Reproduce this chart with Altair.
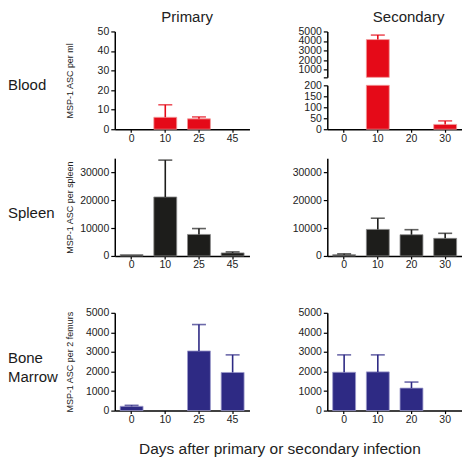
import altair as alt
import pandas as pd

FONT = "Liberation Sans"

primary_days = ["0", "10", "25", "45"]
secondary_days = ["0", "10", "20", "30"]

blood_primary_mean = [0, 6.1, 5.3, 0]
blood_primary_upper = [0, 12.5, 6.3, 0]
blood_secondary_mean = [0, 4150, 0, 22]
blood_secondary_upper = [0, 4620, 0, 38]
spleen_primary_mean = [500, 21100, 7700, 1100]
spleen_primary_upper = [500, 34300, 9800, 1450]
spleen_secondary_mean = [450, 9500, 7600, 6300]
spleen_secondary_upper = [750, 13500, 9400, 8100]
bone_primary_mean = [220, 0, 3050, 1950]
bone_primary_upper = [270, 0, 4400, 2850]
bone_secondary_mean = [1960, 1980, 1150, 0]
bone_secondary_upper = [2850, 2850, 1460, 0]

row_labels = [["Blood"], ["Spleen"], ["Bone", "Marrow"]]
y_titles = ["MSP-1 ASC per ml", "MSP-1 ASC per spleen", "MSP-1 ASC per 2 femurs"]
col_titles = ["Primary", "Secondary"]
x_title = "Days after primary or secondary infection"

RED, RED_EDGE = "#e50a18", "#f39a9a"
BLACK, BLACK_EDGE = "#1d1d1b", "#8a8a8a"
NAVY, NAVY_EDGE = "#2e2a84", "#9d9acb"

W, H = 135, 98
TXT = "#222222"


def xenc(days):
    return alt.X(
        "day:N", sort=days, title=None,
        scale=alt.Scale(domain=days, paddingInner=0.32, paddingOuter=0.16),
        axis=alt.Axis(labelAngle=0, ticks=True, tickSize=3, tickWidth=1.2, tickColor="black",
                      labelPadding=1, domainColor="black", domainWidth=1.5,
                      labelFontSize=10.5, labelFont=FONT, labelColor=TXT),
    )


def yaxis(values, title=None, **kw):
    return alt.Axis(
        values=values, format="d", title=title, tickSize=4, tickWidth=1.2, tickColor="black",
        labelPadding=2, domainWidth=1.5, domainColor="black", grid=False,
        labelFontSize=10.5, labelFont=FONT, labelColor=TXT, labelOverlap=False,
        titleFontSize=9, titleFont=FONT, titleFontWeight="normal", titleColor=TXT,
        titlePadding=4, minExtent=36, maxExtent=36, **kw)


ONE = pd.DataFrame({"k": [0]})


def row_label(lines, y):
    txt = lines if len(lines) > 1 else lines[0]
    return alt.Chart(ONE).mark_text(
        align="left", baseline="alphabetic", fontSize=15, font=FONT, color="#1a1a1a",
        lineHeight=19).encode(x=alt.value(-107), y=alt.value(y), text=alt.value(txt))


def spacer(y):
    return alt.Chart(ONE).mark_text(opacity=0, fontSize=4, baseline="bottom").encode(
        x=alt.value(60), y=alt.value(y), text=alt.value("."))


def layers_for(df, days, color, edge, scale, axis, yfield="mean", y2field=None):
    bars_df = df[df[yfield] > 0]
    err = df[df["upper"] > df["mean"]]
    benc = dict(x=xenc(days), y=alt.Y(f"{yfield}:Q", scale=scale, axis=axis))
    if y2field:
        benc["y2"] = f"{y2field}:Q"
    bars = alt.Chart(bars_df).mark_bar(color=color, stroke=edge, strokeWidth=0.8).encode(**benc)
    out = [bars]
    if len(err):
        stem = alt.Chart(err).mark_rule(color=color, strokeWidth=1.6).encode(
            x=xenc(days), y=alt.Y("mean:Q", scale=scale, axis=axis), y2="upper:Q")
        cap = alt.Chart(err).mark_tick(color=color, thickness=1.6, size=14,
                                       orient="horizontal").encode(
            x=xenc(days), y=alt.Y("upper:Q", scale=scale, axis=axis))
        out += [stem, cap]
    return out


def title_params(text, dx):
    return alt.TitleParams(text, fontSize=15, font=FONT, fontWeight="normal", color=TXT,
                           offset=1, anchor="middle", dx=dx)


def panel(days, mean, upper, color, edge, ymax, ticks, ytitle=None, label=None,
          label_y=60, title=None, title_dx=0, extra=None):
    df = pd.DataFrame({"day": days, "mean": mean, "upper": upper})
    scale = alt.Scale(domain=[0, ymax], nice=False)
    layers = layers_for(df, days, color, edge, scale, yaxis(ticks, ytitle))
    if label:
        layers.append(row_label(label, label_y))
    if extra is not None:
        layers.append(extra)
    ch = alt.layer(*layers).properties(width=W, height=H)
    if title:
        ch = ch.properties(title=title_params(title, title_dx))
    return ch


# Row 1: blood
bp = panel(primary_days, blood_primary_mean, blood_primary_upper, RED, RED_EDGE, 50,
           [0, 10, 20, 30, 40, 50], y_titles[0], row_labels[0], 59, col_titles[0], 5)

bs = pd.DataFrame({"day": secondary_days, "mean": blood_secondary_mean,
                   "upper": blood_secondary_upper})
bs["low"] = bs["mean"].clip(upper=200)
bs["base"] = 200
lo_scale = alt.Scale(domain=[0, 200], range=[H, H - 44], nice=False)
hi_scale = alt.Scale(domain=[200, 5000], range=[46, 0], nice=False)
lo_df = bs.copy()
lo_df.loc[lo_df["mean"] > 200, "upper"] = 0  # upper error drawn in the top segment
hi_df = bs[bs["mean"] > 200]

lo_layer = alt.layer(*layers_for(
    lo_df, secondary_days, RED, RED_EDGE, lo_scale,
    yaxis([0, 50, 100, 150, 200], None, orient="left"), yfield="low"))
hi_layer = alt.layer(*layers_for(
    hi_df, secondary_days, RED, RED_EDGE, hi_scale,
    yaxis([200, 1000, 2000, 3000, 4000, 5000], None, orient="left",
          labelExpr="datum.value == 200 ? '' : datum.label"),
    yfield="mean", y2field="base"))
bsec = alt.layer(lo_layer, hi_layer).resolve_scale(y="independent").resolve_axis(
    y="independent").properties(width=W, height=H, title=title_params(col_titles[1], 14))

# Row 2: spleen
sp = panel(primary_days, spleen_primary_mean, spleen_primary_upper, BLACK, BLACK_EDGE, 35000,
           [0, 10000, 20000, 30000], y_titles[1], row_labels[1], 60, extra=spacer(135.5))
ssec = panel(secondary_days, spleen_secondary_mean, spleen_secondary_upper, BLACK, BLACK_EDGE,
             35000, [0, 10000, 20000, 30000])

# Row 3: bone marrow
mp = panel(primary_days, bone_primary_mean, bone_primary_upper, NAVY, NAVY_EDGE, 5000,
           [0, 1000, 2000, 3000, 4000, 5000], y_titles[2], row_labels[2], 50)
msec = panel(secondary_days, bone_secondary_mean, bone_secondary_upper, NAVY, NAVY_EDGE, 5000,
             [0, 1000, 2000, 3000, 4000, 5000])

chart = alt.concat(
    bp, bsec, sp, ssec, mp, msec, columns=2, align="each",
    spacing=alt.RowColnumber(row=14, column=42),
).properties(
    title=alt.TitleParams(x_title, orient="bottom", anchor="middle", dx=45, offset=17,
                          fontSize=15.5, font=FONT, fontWeight="normal", color=TXT),
    padding={"top": 2, "left": 0, "right": 0, "bottom": 0}, background="white",
).configure_view(stroke=None)

chart.save("out.html", embed_options={"renderer": "svg", "actions": False})
